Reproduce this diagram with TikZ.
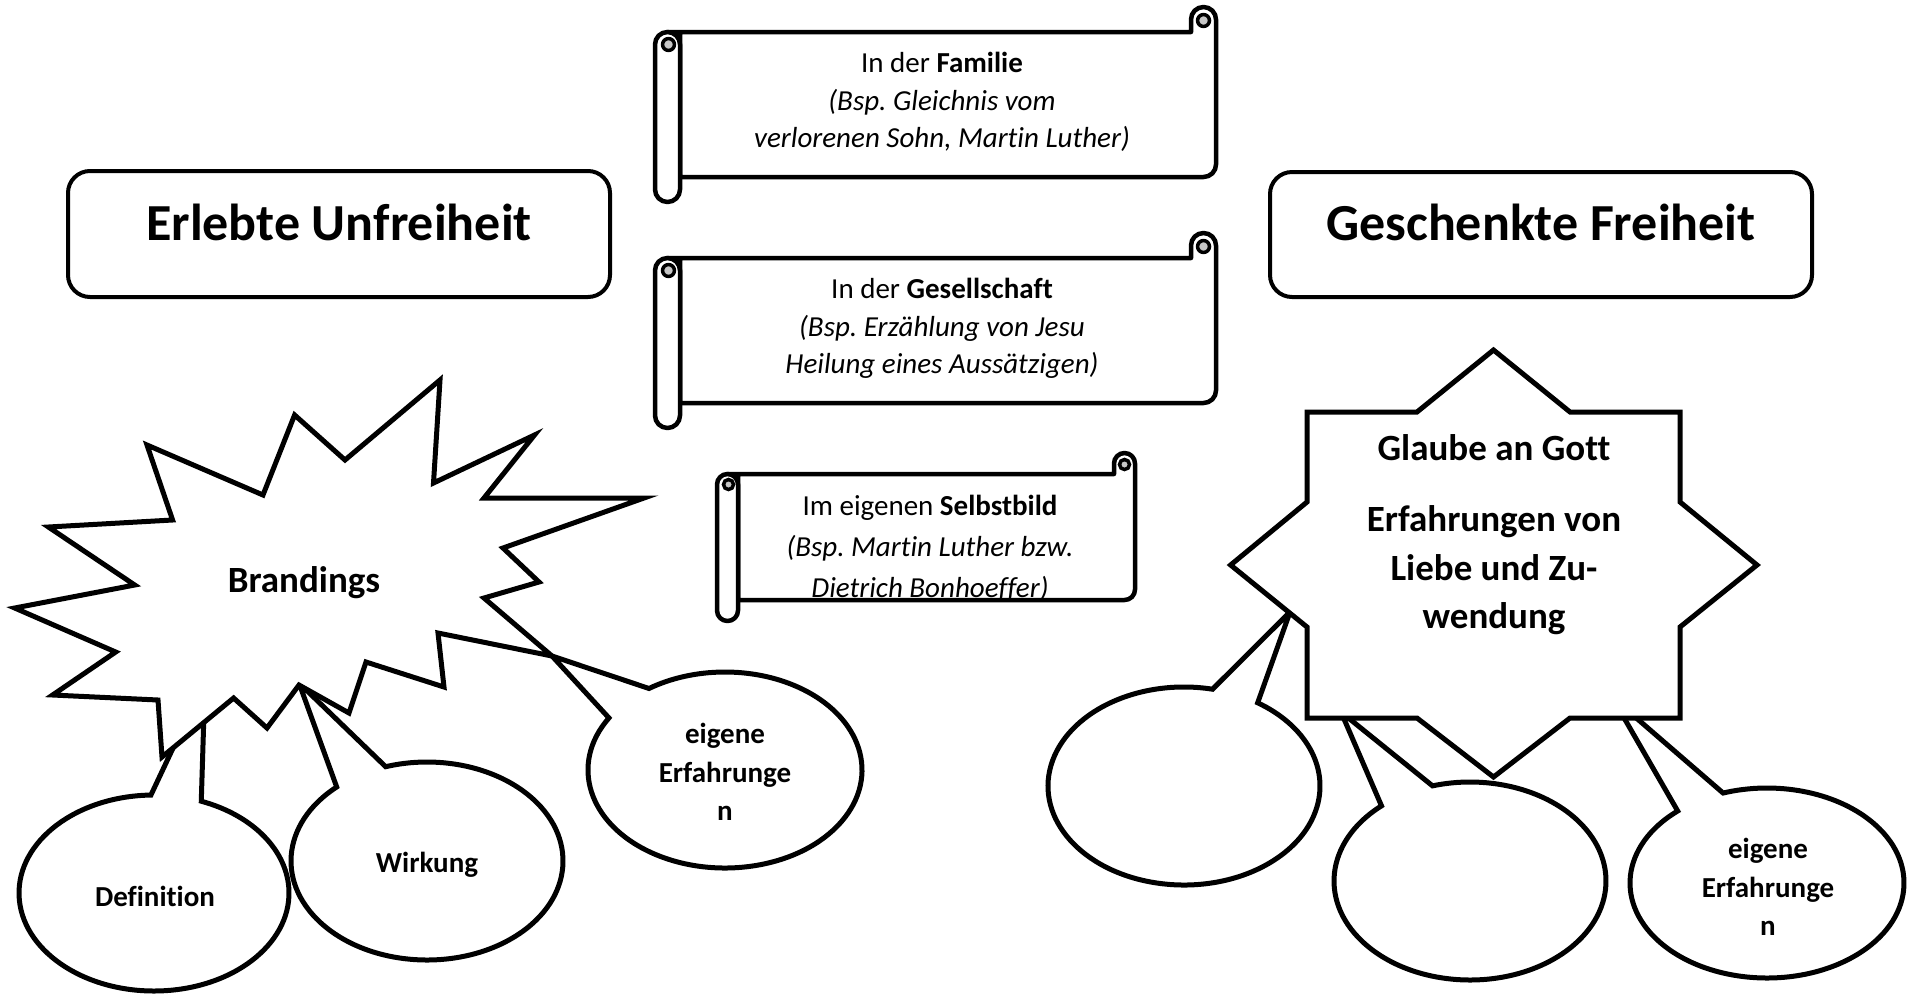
\documentclass[tikz,border=0pt]{standalone}
\usepackage{fontspec}
\setmainfont{Carlito}[Ligatures={NoCommon}]
\frenchspacing
\usetikzlibrary{calc}
\tikzset{
  shapeline/.style={line width=5pt, line join=miter, miter limit=10},
  scrollline/.style={line width=4.5pt, line join=round},
  titlebox/.style={line width=4pt, rounded corners=22pt},
  ttl/.style={font=\fontsize{52}{62}\selectfont\bfseries, anchor=base, inner sep=0pt},
  sttx/.style={font=\fontsize{37}{44}\selectfont\bfseries, anchor=base, inner sep=0pt},
  cotx/.style={font=\fontsize{29}{35}\selectfont\bfseries, anchor=base, inner sep=0pt},
  sctx/.style={font=\fontsize{29}{35}\selectfont, anchor=base, inner sep=0pt},
}
% scroll: L T R B c
\newcommand\myscroll[5]{%
  \pgfmathsetmacro\sh{#5/2}%
  \pgfmathsetmacro\sq{#5/4.2}%
  \draw[scrollline,fill=white] ({#1+\sh},{#2+#5}) -- ({#3-#5},{#2+#5}) -- ({#3-#5},{#2+\sh})
     arc[start angle=180,end angle=0,radius=\sh pt] -- (#3,{#4-#5-\sh})
     arc[start angle=0,end angle=-90,radius=\sh pt] -- ({#1+#5},{#4-#5}) -- ({#1+#5},{#2+#5}) -- cycle;
  \draw[line width=3.5pt,fill=gray!45] ({#3-\sh},{#2+\sh+1}) circle[radius=\sq pt];
  \draw[scrollline,fill=white,rounded corners=\sh pt] (#1,{#2+#5}) rectangle ({#1+#5},#4);
  \draw[line width=3.5pt,fill=gray!45] ({#1+\sh+1},{#2+#5+\sh}) circle[radius=\sq pt];
}
% callout: name cx cy rx ry tip a1 a2
\newcommand\callout[8]{%
  \coordinate (#1) at (#2,#3);
  \draw[shapeline,fill=white] #6 -- ($(#1)+(#7:#4pt and #5pt)$)
     arc[start angle=#7,end angle=#8,x radius=#4pt,y radius=#5pt] -- cycle;
}
\begin{document}
\begin{tikzpicture}[x=1pt,y=-1pt]
\useasboundingbox (0,0) rectangle (1908,994);
\fill[white] (0,0) rectangle (1908,994);

% callouts (left group)
\coordinate (deftip) at (205,680);
\coordinate (wirtip) at (299,683);
\coordinate (eigtip) at (552,656);
\callout{defc}{154}{893}{135}{98}{(deftip)}{91.3}{429.5}
\callout{wirc}{427}{861}{136}{99}{(wirtip)}{131.6}{467.7}
\callout{eigc}{725}{770}{137}{98}{(eigtip)}{147.9}{483.7}

% callouts (right group)
\coordinate (r1tip) at (1290,612);
\coordinate (r2tip) at (1341,712);
\coordinate (r3tip) at (1612,697);
\callout{rca}{1184}{786}{136}{99}{(r1tip)}{77.9}{417.2}
\callout{rcb}{1470}{881}{136}{99}{(r2tip)}{130.6}{466}
\callout{rcc}{1767}{883}{137}{95}{(r3tip)}{130.7}{468.7}

% Brandings star
\draw[shapeline,fill=white] (440,380) -- (433.5,483) -- (534.5,435) -- (484,498) -- (644,498)
  -- (503,548) -- (539,582) -- (484,598) -- (eigtip) -- (438,633) -- (444,687) -- (366,662)
  -- (349,713) -- (299,685) -- (267,728) -- (233.6,698) -- (162,757) -- (158,700)
  -- (52.6,695) -- (115.7,652) -- (14.7,608) -- (134.7,585) -- (48.4,527) -- (172.6,520)
  -- (147,445) -- (263,495) -- (294.6,415) -- (345,460) -- cycle;

% eight-point star
\draw[shapeline,fill=white] (1493.5,350) -- (1570,412) -- (1680,412) -- (1680,502) -- (1757,565)
  -- (1680,627) -- (1680,718) -- (1570,718) -- (1493.5,777) -- (1417,718) -- (1307,718)
  -- (1307,627) -- (1230.6,565) -- (1307,502) -- (1307,412) -- (1417,412) -- cycle;

% title boxes
\draw[titlebox] (68,171) rectangle (610,297);
\draw[titlebox] (1270,172) rectangle (1812,297);
\node[ttl] (tleft) at (339,240) {Erlebte Unfreiheit};
\node[ttl] (tright) at (1541,240) {Geschenkte Freiheit};

% scrolls
\myscroll{655}{7}{1216}{202}{25}
\myscroll{655}{233}{1216}{428}{25}
\myscroll{717}{453}{1135}{621}{21}

\node[sctx] (fam1) at (942,72) {In der \textbf{Familie}};
\node[sctx] (fam2) at (942,110) {\itshape (Bsp. Gleichnis vom};
\node[sctx] (fam3) at (942,147) {\itshape verlorenen Sohn, Martin Luther)};

\node[sctx] (ges1) at (942,298) {In der \textbf{Gesellschaft}};
\node[sctx] (ges2) at (942,336) {\itshape (Bsp. Erzählung von Jesu};
\node[sctx] (ges3) at (942,373) {\itshape Heilung eines Aussätzigen)};

\node[sctx] (sel1) at (930,515) {Im eigenen \textbf{Selbstbild}};
\node[sctx] (sel2) at (930,556) {\itshape (Bsp. Martin Luther bzw.};
\begin{scope}
  \clip (740,560) rectangle (1130,597.5);
  \node[sctx] (sel3) at (930,597) {\itshape Dietrich Bonhoeffer)};
\end{scope}

% star texts
\node[sttx] (brand) at (304,592) {Brandings};
\node[sttx] (gl1) at (1494,460) {Glaube an Gott};
\node[sttx] (gl2) at (1494,531) {Erfahrungen von};
\node[sttx] (gl3) at (1494,580) {Liebe und Zu-};
\node[sttx] (gl4) at (1494,628) {wendung};

% callout texts
\node[cotx] (deft) at (155,906) {Definition};
\node[cotx] (wirt) at (427,872) {Wirkung};
\node[cotx] (eig1) at (725,743) {eigene};
\node[cotx] (eig2) at (725,782) {Erfahrunge};
\node[cotx] (eig3) at (725,820) {n};
\node[cotx] (reig1) at (1768,858) {eigene};
\node[cotx] (reig2) at (1768,897) {Erfahrunge};
\node[cotx] (reig3) at (1768,935) {n};
\end{tikzpicture}
\end{document}
